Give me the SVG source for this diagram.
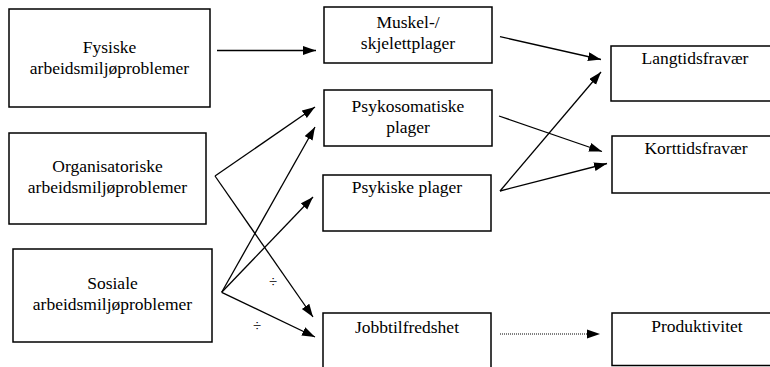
<svg xmlns="http://www.w3.org/2000/svg" width="770" height="367" viewBox="0 0 770 367">
  <style>
    .box { fill: #ffffff; stroke: #000000; stroke-width: 1.5; }
    .lbl { font-family: "Liberation Serif", "Times New Roman", serif; font-size: 17.5px; fill: #000000; text-anchor: middle; }
    .sign { font-family: "Liberation Serif", "Times New Roman", serif; font-size: 15px; fill: #000000; text-anchor: middle; }
    .edge { fill: none; stroke: #000000; stroke-width: 1.3; }
    .dotted { fill: none; stroke: #000000; stroke-width: 1; stroke-dasharray: 1 1; }
  </style>
  <defs>
    <marker id="arrow" markerUnits="userSpaceOnUse" markerWidth="14" markerHeight="10" refX="13" refY="4.5" orient="auto">
      <path d="M0,0 L13,4.5 L0,9 z" fill="#000000"/>
    </marker>
  </defs>
  <rect width="770" height="367" fill="#ffffff"/>

  <!-- causes (left column) -->
  <g id="fysiske">
    <rect class="box" x="9" y="9" width="201" height="98"/>
    <text class="lbl" x="109.5" y="53">Fysiske</text>
    <text class="lbl" x="109.5" y="74">arbeidsmiljøproblemer</text>
  </g>
  <g id="organisatoriske">
    <rect class="box" x="9" y="133" width="197" height="91"/>
    <text class="lbl" x="107.5" y="172">Organisatoriske</text>
    <text class="lbl" x="107.5" y="193">arbeidsmiljøproblemer</text>
  </g>
  <g id="sosiale">
    <rect class="box" x="13" y="249" width="199" height="93"/>
    <text class="lbl" x="112.5" y="289">Sosiale</text>
    <text class="lbl" x="112.5" y="310">arbeidsmiljøproblemer</text>
  </g>

  <!-- effects (middle column) -->
  <g id="muskel">
    <rect class="box" x="324" y="7" width="168" height="56"/>
    <text class="lbl" x="408" y="28">Muskel-/</text>
    <text class="lbl" x="408" y="49">skjelettplager</text>
  </g>
  <g id="psykosomatiske">
    <rect class="box" x="324" y="90" width="168" height="56"/>
    <text class="lbl" x="408" y="112">Psykosomatiske</text>
    <text class="lbl" x="408" y="133">plager</text>
  </g>
  <g id="psykiske">
    <rect class="box" x="323" y="175" width="168" height="56"/>
    <text class="lbl" x="407" y="193">Psykiske plager</text>
  </g>
  <g id="jobbtilfredshet">
    <rect class="box" x="323" y="313" width="168" height="60"/>
    <text class="lbl" x="407" y="333">Jobbtilfredshet</text>
  </g>

  <!-- outcomes (right column) -->
  <g id="langtidsfravaer">
    <rect class="box" x="611" y="46" width="170" height="55"/>
    <text class="lbl" x="695" y="64">Langtidsfravær</text>
  </g>
  <g id="korttidsfravaer">
    <rect class="box" x="612" y="136" width="170" height="57"/>
    <text class="lbl" x="696" y="154">Korttidsfravær</text>
  </g>
  <g id="produktivitet">
    <rect class="box" x="612" y="313" width="170" height="52.5"/>
    <text class="lbl" x="697" y="332">Produktivitet</text>
  </g>

  <!-- connectors -->
  <g id="connectors">
    <path class="edge" d="M217,50.5 L316,50.5" marker-end="url(#arrow)"/>
    <path class="edge" d="M215,176 L315,107" marker-end="url(#arrow)"/>
    <path class="edge" d="M215,176 L313,317" marker-end="url(#arrow)"/>
    <path class="edge" d="M221.7,292.3 L315,127" marker-end="url(#arrow)"/>
    <path class="edge" d="M221.7,292.3 L313,197" marker-end="url(#arrow)"/>
    <path class="edge" d="M221.7,292.3 L315,337" marker-end="url(#arrow)"/>
    <path class="edge" d="M500,36.7 L601,59.5" marker-end="url(#arrow)"/>
    <path class="edge" d="M499,116 L602,151.5" marker-end="url(#arrow)"/>
    <path class="edge" d="M500,191 L601,72" marker-end="url(#arrow)"/>
    <path class="edge" d="M500,191 L607,163.5" marker-end="url(#arrow)"/>
    <path class="dotted" d="M500,334 L588,334"/>
    <path d="M587,329.5 L600,334 L587,338.5 z" fill="#000000"/>
    <text class="sign" x="273" y="287">÷</text>
    <text class="sign" x="257" y="330.5">÷</text>
  </g>
</svg>
